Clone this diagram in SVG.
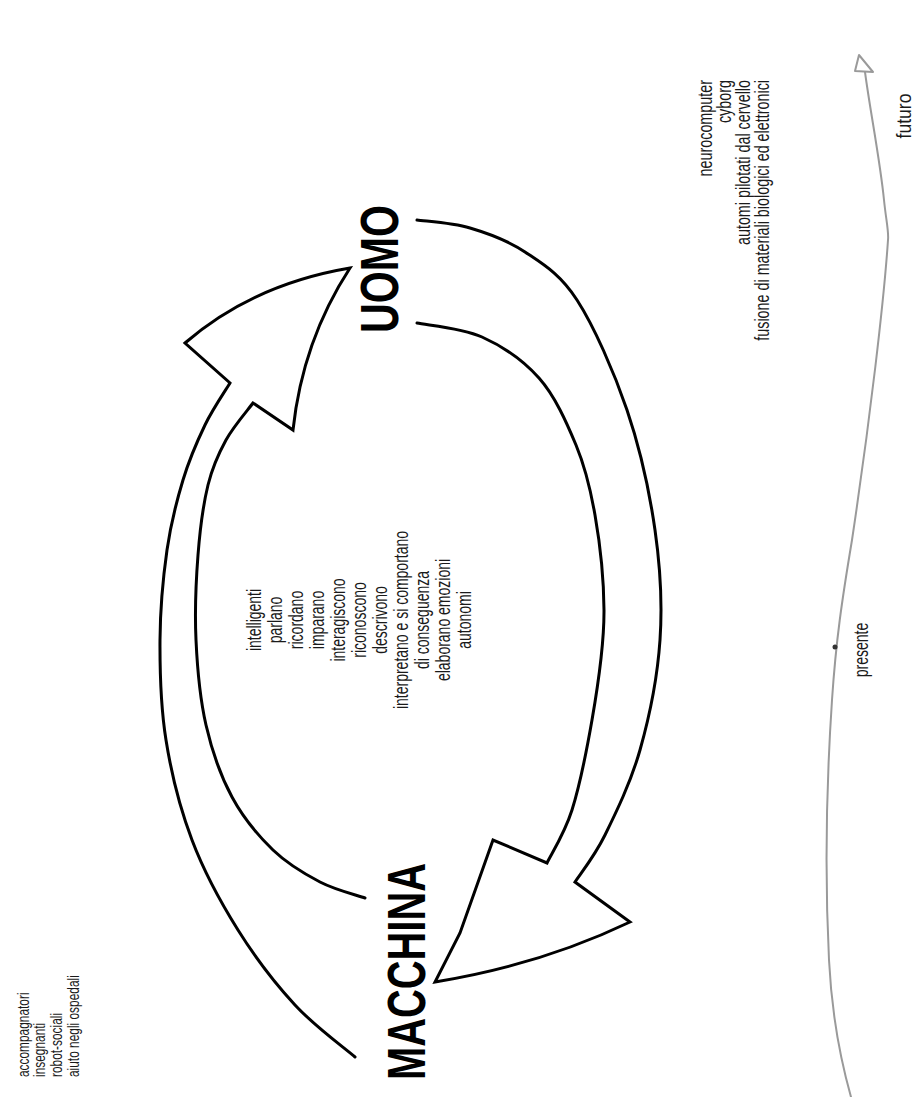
<svg xmlns="http://www.w3.org/2000/svg" width="913" height="1097" viewBox="0 0 913 1097">
<style>
.t{font-family:"Liberation Sans",Arial,sans-serif;fill:#1a1a1a}
.b{font-family:"Liberation Sans",Arial,sans-serif;font-weight:bold;fill:#000;font-size:53px}
.arrow{fill:none;stroke:#000;stroke-width:3;stroke-linejoin:miter;stroke-linecap:round}
.pencil{fill:none;stroke:#9a9a9a;stroke-width:2;stroke-linecap:round;stroke-linejoin:round}
</style>
<rect width="913" height="1097" fill="#fff"/>

<g id="connectors">
<path class="arrow" d="M355,1057 C345,1048.3 314.5,1026.2 295,1005 C275.5,983.8 255.2,957.5 238,930 C220.8,902.5 204,871.7 192,840 C180,808.3 171.3,773.3 166,740 C160.7,706.7 159.8,671.7 160,640 C160.2,608.3 163.2,576.7 167,550 C170.8,523.3 176.7,500.8 183,480 C189.3,459.2 197.2,441.2 205,425 C212.8,408.8 225.8,390 230,383 L185,343 Q252.5,284.5 350,268 Q302.5,341 293,430 L253,403 C248.5,409.2 233.5,426.3 226,440 C218.5,453.7 212.7,465.8 208,485 C203.3,504.2 200,529.2 198,555 C196,580.8 194.7,611.7 196,640 C197.3,668.3 200,698.8 206,725 C212,751.2 220.8,776.2 232,797 C243.2,817.8 258.3,835.8 273,850 C287.7,864.2 304.7,874 320,882 C335.3,890 357.5,895.3 365,898"/>
<path class="arrow" d="M417,220 C425.8,221.3 452,222.7 470,228 C488,233.3 507.2,240 525,252 C542.8,264 560,273.7 577,300 C594,326.3 614,371.7 627,410 C640,448.3 649.5,491.7 655,530 C660.5,568.3 662.5,603.3 660,640 C657.5,676.7 649.2,717.5 640,750 C630.8,782.5 615.8,813 605,835 C594.2,857 580,874.2 575,882 L630,922 Q540,965 435,982 L460,933 L493,840 L547,863 C551.2,854.2 564.5,833.8 572,810 C579.5,786.2 586.2,753.3 592,720 C597.8,686.7 604.2,644.2 604,610 C603.8,575.8 599.8,542.5 595,515 C590.2,487.5 585.5,467.8 576,445 C566.5,422.2 555,396 539,378 C523,360 502.5,346.2 482,337 C461.5,327.8 427.8,325.3 417,323"/>
</g>

<g id="uomo">
<text class="b" transform="translate(398,269) rotate(-90)" text-anchor="middle" textLength="128" lengthAdjust="spacingAndGlyphs">UOMO</text>
</g>

<g id="macchina">
<text class="b" transform="translate(425,971.5) rotate(-90)" text-anchor="middle" textLength="217" lengthAdjust="spacingAndGlyphs">MACCHINA</text>
</g>

<g id="caratteristiche" class="t" font-size="20" text-anchor="middle">
<text transform="translate(261,620) rotate(-90) scale(0.7,1)">intelligenti</text>
<text transform="translate(282,620) rotate(-90) scale(0.7,1)">parlano</text>
<text transform="translate(303,620) rotate(-90) scale(0.7,1)">ricordano</text>
<text transform="translate(324,620) rotate(-90) scale(0.7,1)">imparano</text>
<text transform="translate(345,620) rotate(-90) scale(0.7,1)">interagiscono</text>
<text transform="translate(366,620) rotate(-90) scale(0.7,1)">riconoscono</text>
<text transform="translate(387,620) rotate(-90) scale(0.7,1)">descrivono</text>
<text transform="translate(408,620) rotate(-90) scale(0.7,1)">interpretano e si comportano</text>
<text transform="translate(429,620) rotate(-90) scale(0.7,1)">di conseguenza</text>
<text transform="translate(450,620) rotate(-90) scale(0.7,1)">elaborano emozioni</text>
<text transform="translate(471,620) rotate(-90) scale(0.7,1)">autonomi</text>
</g>

<g id="presente-esempi" class="t" font-size="17" text-anchor="start">
<text transform="translate(29,1077) rotate(-90) scale(0.7,1)">accompagnatori</text>
<text transform="translate(45,1077) rotate(-90) scale(0.7,1)">insegnanti</text>
<text transform="translate(62,1077) rotate(-90) scale(0.7,1)">robot-sociali</text>
<text transform="translate(79,1077) rotate(-90) scale(0.7,1)">aiuto negli ospedali</text>
</g>

<g id="futuro-esempi" class="t" font-size="20.5" text-anchor="end">
<text transform="translate(712,80) rotate(-90) scale(0.7,1)">neurocomputer</text>
<text transform="translate(731,80) rotate(-90) scale(0.7,1)">cyborg</text>
<text transform="translate(750,80) rotate(-90) scale(0.7,1)">automi pilotati dal cervello</text>
<text transform="translate(769,80) rotate(-90) scale(0.7,1)">fusione di materiali biologici ed elettronici</text>
</g>

<g id="timeline">
<path class="pencil" d="M865,72 C870,110 880,160 884,200 C886,220 889,232 888,240 C884,300 870,420 852,540 C842,600 836,640 832,700 C826,790 825,880 829,960 C832,1020 842,1065 851,1097"/>
<polygon class="pencil" points="859,55 855,71 873,72"/>
<circle cx="835" cy="647" r="2.5" fill="#333"/>
<text class="t" font-size="19.5" text-anchor="middle" transform="translate(868,650) rotate(-90) scale(0.72,1)">presente</text>
<text class="t" font-size="19.5" text-anchor="middle" transform="translate(911,116) rotate(-90)" textLength="45" lengthAdjust="spacingAndGlyphs">futuro</text>
</g>
</svg>
